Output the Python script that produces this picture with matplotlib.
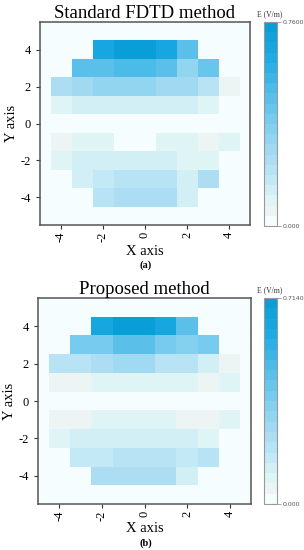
import matplotlib
matplotlib.use("Agg")
import matplotlib.pyplot as plt
import numpy as np
from matplotlib.colors import LinearSegmentedColormap

plt.rcParams["axes.unicode_minus"] = False
plt.rcParams["font.family"] = ["Liberation Serif", "DejaVu Serif"]

# ── Data ────────────────────────────────────────────────────────────────────
x_centers = [-4, -3, -2, -1, 0, 1, 2, 3, 4]
y_centers = [5, 4, 3, 2, 1, 0, -1, -2, -3, -4, -5]
ticks = [-4, -2, 0, 2, 4]

# E field (V/m), rows from y=5 down to y=-5, columns x=-4..4
e_fdtd = [
    [0, 0, 0, 0, 0, 0, 0, 0, 0],
    [0, 0, 0.65, 0.74, 0.76, 0.67, 0.49, 0, 0],
    [0, 0.46, 0.49, 0.52, 0.52, 0.48, 0.34, 0.42, 0],
    [0.23, 0.27, 0.33, 0.33, 0.33, 0.29, 0.27, 0.21, 0.04],
    [0.08, 0.13, 0.13, 0.14, 0.14, 0.13, 0.13, 0.08, 0],
    [0.01, 0.01, 0.01, 0.01, 0.01, 0.01, 0.01, 0.01, 0],
    [0.04, 0.08, 0.11, 0.01, 0.01, 0.11, 0.08, 0.05, 0.08],
    [0.08, 0.13, 0.13, 0.13, 0.13, 0.13, 0.11, 0.11, 0],
    [0, 0.13, 0.17, 0.21, 0.21, 0.21, 0.13, 0.23, 0],
    [0, 0, 0.21, 0.25, 0.25, 0.25, 0.14, 0, 0],
    [0, 0, 0, 0, 0, 0, 0, 0, 0],
]
e_proposed = [
    [0, 0, 0, 0, 0, 0, 0, 0, 0],
    [0, 0, 0.61, 0.71, 0.714, 0.62, 0.46, 0, 0],
    [0, 0.36, 0.39, 0.43, 0.43, 0.39, 0.34, 0.38, 0],
    [0.19, 0.21, 0.23, 0.26, 0.26, 0.21, 0.20, 0.14, 0.04],
    [0.06, 0.06, 0.075, 0.075, 0.075, 0.075, 0.075, 0.06, 0.075],
    [0.01, 0.01, 0.01, 0.01, 0.01, 0.01, 0.01, 0.01, 0.01],
    [0.04, 0.055, 0.08, 0.08, 0.08, 0.08, 0.055, 0.04, 0.09],
    [0.09, 0.11, 0.13, 0.13, 0.13, 0.13, 0.11, 0.075, 0],
    [0, 0.16, 0.16, 0.19, 0.19, 0.19, 0.16, 0.20, 0],
    [0, 0, 0.24, 0.24, 0.24, 0.24, 0.14, 0, 0],
    [0, 0, 0, 0, 0, 0, 0, 0, 0],
]
vmax_fdtd = 0.76
vmax_proposed = 0.714

# ── Colours ─────────────────────────────────────────────────────────────────
cmap = LinearSegmentedColormap.from_list("efield", [
    (0.00, "#f6fdfe"), (0.05, "#eef4f4"), (0.10, "#e0f6f5"),
    (0.17, "#cfeef6"), (0.27, "#b5e2f5"), (0.35, "#a5daf1"),
    (0.45, "#8ad3ef"), (0.55, "#70c8ee"), (0.65, "#55bee8"),
    (0.85, "#1caae3"), (1.00, "#0a9ed8"),
]).resampled(20)

W, H = 304, 550
fig = plt.figure(figsize=(W / 100, H / 100), dpi=100)


def px(left, top, width, height):
    return [left / W, 1 - (top + height) / H, width / W, height / H]


def panel(ax_box, cb_box, data, vmax, vmax_label, title, tag, xlab_y, tag_y):
    ax = fig.add_axes(px(*ax_box))
    ax.set_facecolor(cmap(0))
    mesh = ax.pcolormesh(x_centers, y_centers, np.array(data), cmap=cmap,
                         vmin=0, vmax=vmax, shading="nearest")
    ax.set_xlim(-5, 5)
    ax.set_ylim(-5.5, 5.5)
    ax.set_xticks(ticks)
    ax.set_yticks(ticks)
    ax.tick_params(axis="x", labelrotation=90, labelsize=9, length=3,
                   width=0.8, color="#333333", pad=2)
    ax.tick_params(axis="y", labelsize=9, length=3, width=0.8, color="#333333")
    for s in ax.spines.values():
        s.set_color("#555555")
        s.set_linewidth(1.1)
    ax.set_title(title, fontsize=13.5, pad=1)
    ax.set_xlabel("X axis", fontsize=10.5, va="center")
    bottom = ax_box[1] + ax_box[3]
    ax.xaxis.set_label_coords(0.5, -(xlab_y - bottom) / ax_box[3])
    ax.set_ylabel("Y axis", fontsize=10.5, labelpad=2)

    cax = fig.add_axes(px(*cb_box))
    cb = fig.colorbar(mesh, cax=cax, ticks=[0, vmax])
    cb.ax.set_yticklabels(["0.000", vmax_label], family="DejaVu Sans",
                          fontsize=4.5, color="#555555")
    cb.ax.tick_params(length=3, width=0.6, color="#999999", pad=1)
    cb.outline.set_edgecolor("#999999")
    cb.outline.set_linewidth(0.8)
    cax.text(0.4, 1.02, "E (V/m)", transform=cax.transAxes, ha="center",
             va="bottom", fontsize=5.5, color="#333333")
    fig.text(146 / W, 1 - tag_y / H, tag, ha="center", va="center",
             fontsize=7.5, weight="bold")


panel((40, 22, 210, 203), (264, 22, 13, 204), e_fdtd, vmax_fdtd, "0.7600",
      "Standard FDTD method", "(a)", 251, 265)
panel((38, 298, 213, 206), (264, 298, 13, 206), e_proposed, vmax_proposed,
      "0.7140", "Proposed method", "(b)", 528, 543)

fig.savefig("out.png", dpi=100)
